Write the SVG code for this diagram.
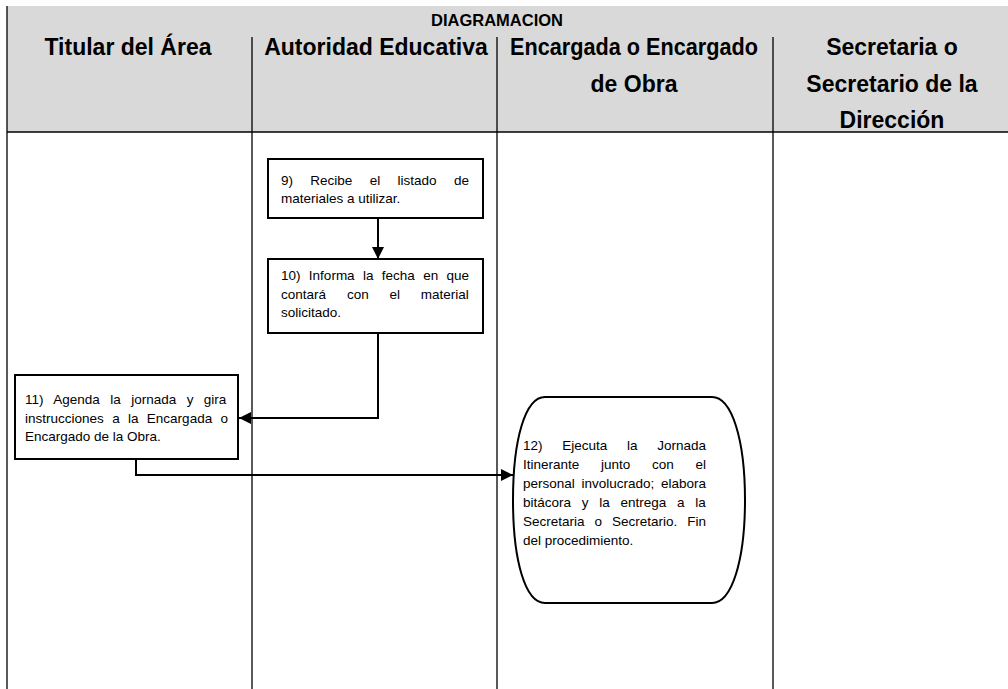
<svg xmlns="http://www.w3.org/2000/svg" width="1008" height="689" viewBox="0 0 1008 689">
<style>
.hdr{font-family:"Liberation Sans",Arial,sans-serif;font-weight:bold;font-size:23px;fill:#000;text-anchor:middle}
.ttl{font-family:"Liberation Sans",Arial,sans-serif;font-weight:bold;font-size:16.5px;fill:#000;text-anchor:middle}
.body{font-family:"Liberation Sans",Arial,sans-serif;font-size:13.5px;fill:#000}
.grid{stroke:#000;stroke-width:1.3;fill:none}
.box{fill:#fff;stroke:#000;stroke-width:2}
.conn{stroke:#000;stroke-width:2;fill:none}
</style>
<defs>
<marker id="arr" markerUnits="userSpaceOnUse" markerWidth="12" markerHeight="12" viewBox="0 0 12 12" refX="12" refY="6" orient="auto">
<path d="M0,0 L12,6 L0,12 z" fill="#000"/>
</marker>
</defs>
<rect width="1008" height="689" fill="#fff"/>
<g id="lanes">
<rect x="7" y="6" width="1001" height="126" fill="#d9d9d9"/>
<line class="grid" x1="7" y1="6" x2="7" y2="689"/>
<line class="grid" x1="7" y1="132" x2="1008" y2="132"/>
<line class="grid" x1="252" y1="37" x2="252" y2="689"/>
<line class="grid" x1="497" y1="37" x2="497" y2="689"/>
<line class="grid" x1="773" y1="37" x2="773" y2="689"/>
<text class="ttl" x="497" y="26">DIAGRAMACION</text>
<text class="hdr" x="128" y="55">Titular del Área</text>
<text class="hdr" x="376" y="55">Autoridad Educativa</text>
<text class="hdr" x="634" y="55" textLength="248" lengthAdjust="spacingAndGlyphs">Encargada o Encargado</text>
<text class="hdr" x="634" y="92">de Obra</text>
<text class="hdr" x="892" y="55">Secretaria o</text>
<text class="hdr" x="892" y="92">Secretario de la</text>
<text class="hdr" x="892" y="128">Dirección</text>
</g>
<g id="connectors">
<path class="conn" d="M378,218 V259" marker-end="url(#arr)"/>
<path class="conn" d="M378,333 V418 H239" marker-end="url(#arr)"/>
<path class="conn" d="M136,459 V475 H513" marker-end="url(#arr)"/>
</g>
<g id="n9">
<rect class="box" x="268" y="159" width="215" height="59"/>
<text class="body" x="281" y="185" word-spacing="13.6">9) Recibe el listado de</text>
<text class="body" x="281" y="203">materiales a utilizar.</text>
</g>
<g id="n10">
<rect class="box" x="268" y="259" width="215" height="74"/>
<text class="body" x="281" y="280" word-spacing="4.6">10) Informa la fecha en que</text>
<text class="body" x="281" y="299" word-spacing="17.1">contará con el material</text>
<text class="body" x="281" y="317">solicitado.</text>
</g>
<g id="n11">
<rect class="box" x="15" y="375" width="223" height="84"/>
<text class="body" x="25" y="404" word-spacing="6.7">11) Agenda la jornada y gira</text>
<text class="body" x="25" y="423" word-spacing="4.6">instrucciones a la Encargada o</text>
<text class="body" x="25" y="441">Encargado de la Obra.</text>
</g>
<g id="n12">
<path class="box" d="M545,397 H712 C732,397 745,440 745,500 C745,560 732,603 712,603 H545 C525,603 513,560 513,500 C513,440 525,397 545,397 Z"/>
<text class="body" x="523" y="450" word-spacing="16">12) Ejecuta la Jornada</text>
<text class="body" x="523" y="469" word-spacing="18">Itinerante junto con el</text>
<text class="body" x="523" y="488" word-spacing="2.95">personal involucrado; elabora</text>
<text class="body" x="523" y="507" word-spacing="7">bitácora y la entrega a la</text>
<text class="body" x="523" y="526" word-spacing="6.2">Secretaria o Secretario. Fin</text>
<text class="body" x="523" y="545">del procedimiento.</text>
</g>
</svg>
